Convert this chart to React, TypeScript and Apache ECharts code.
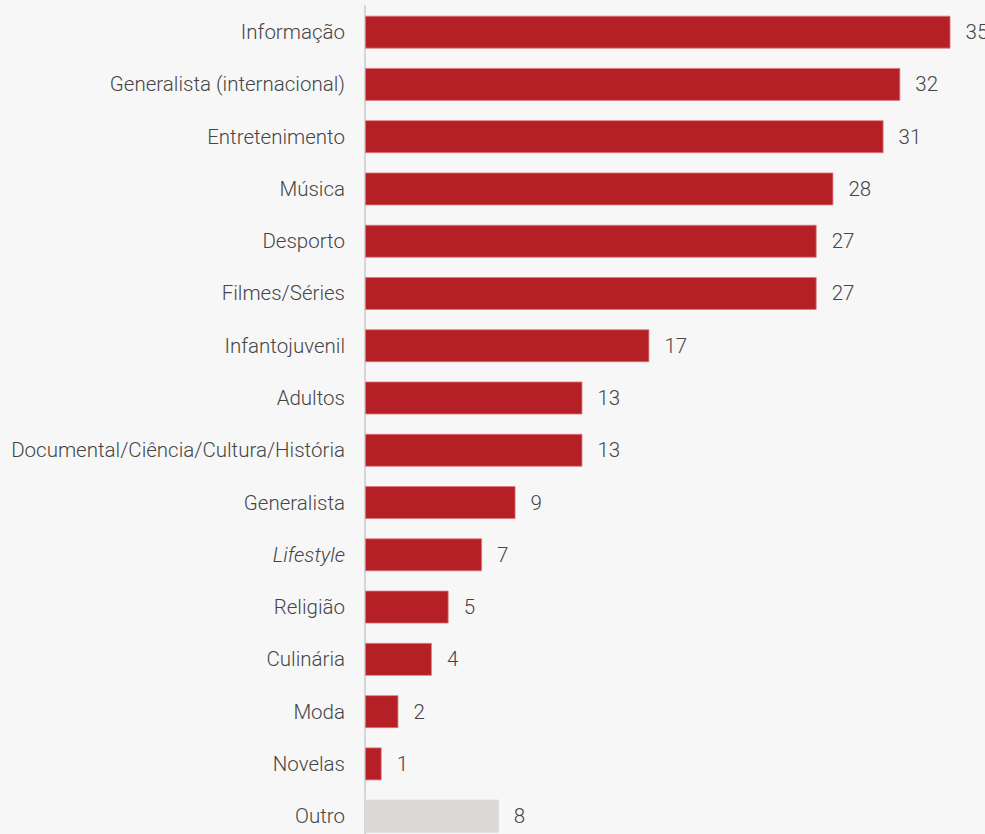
import React, { useEffect, useRef } from "react";
import * as echarts from "echarts";

const categories = [
  "Informação",
  "Generalista (internacional)",
  "Entretenimento",
  "Música",
  "Desporto",
  "Filmes/Séries",
  "Infantojuvenil",
  "Adultos",
  "Documental/Ciência/Cultura/História",
  "Generalista",
  "Lifestyle",
  "Religião",
  "Culinária",
  "Moda",
  "Novelas",
  "Outro",
];
const values = [35, 32, 31, 28, 27, 27, 17, 13, 13, 9, 7, 5, 4, 2, 1, 8];
const italicCategories = ["Lifestyle"];
const greyCategories = ["Outro"];

const FONT = "Roboto, 'DejaVu Sans Condensed', sans-serif";
const TEXT = "#454545";
const SIZE = 20.5;

export default function App() {
  const ref = useRef<HTMLDivElement>(null);
  useEffect(() => {
    document.body.style.margin = "0";
    document.body.style.background = "#f7f7f7";
    const chart = echarts.init(ref.current!, undefined, { renderer: "svg" });
    chart.setOption({
      animation: false,
      backgroundColor: "#f7f7f7",
      grid: {
        left: 365,
        right: 1,
        top: 6,
        bottom: -8.3,
        containLabel: false,
        outerBoundsMode: "none",
      },
      xAxis: {
        type: "value",
        min: 0,
        max: 37,
        show: false,
      },
      yAxis: {
        type: "category",
        data: categories,
        inverse: true,
        axisLine: { show: true, lineStyle: { color: "#d6d6d6", width: 2 } },
        axisTick: { show: false },
        axisLabel: {
          margin: 20,
          color: TEXT,
          fontFamily: FONT,
          fontWeight: 300,
          fontSize: SIZE,
          formatter: (v: string) =>
            italicCategories.includes(v) ? `{i|${v}}` : v,
          rich: {
            i: {
              fontStyle: "italic",
              color: TEXT,
              fontFamily: FONT,
              fontWeight: 300,
              fontSize: SIZE,
            },
          },
        },
      },
      series: [
        {
          type: "bar",
          barWidth: 33,
          data: values.map((v, i) => ({
            value: v,
            itemStyle: {
              color: greyCategories.includes(categories[i]) ? "#dad9d7" : "#b51f26",
              borderColor: greyCategories.includes(categories[i])
                ? "#dad9d7"
                : "rgba(225,120,125,0.8)",
              borderWidth: 1,
            },
          })),
          label: {
            show: true,
            position: "right",
            distance: 15,
            color: TEXT,
            fontFamily: FONT,
            fontWeight: 300,
            fontSize: SIZE,
          },
        },
      ],
    });
    return () => chart.dispose();
  }, []);
  return <div ref={ref} style={{ width: 985, height: 834, background: "#f7f7f7" }} />;
}
